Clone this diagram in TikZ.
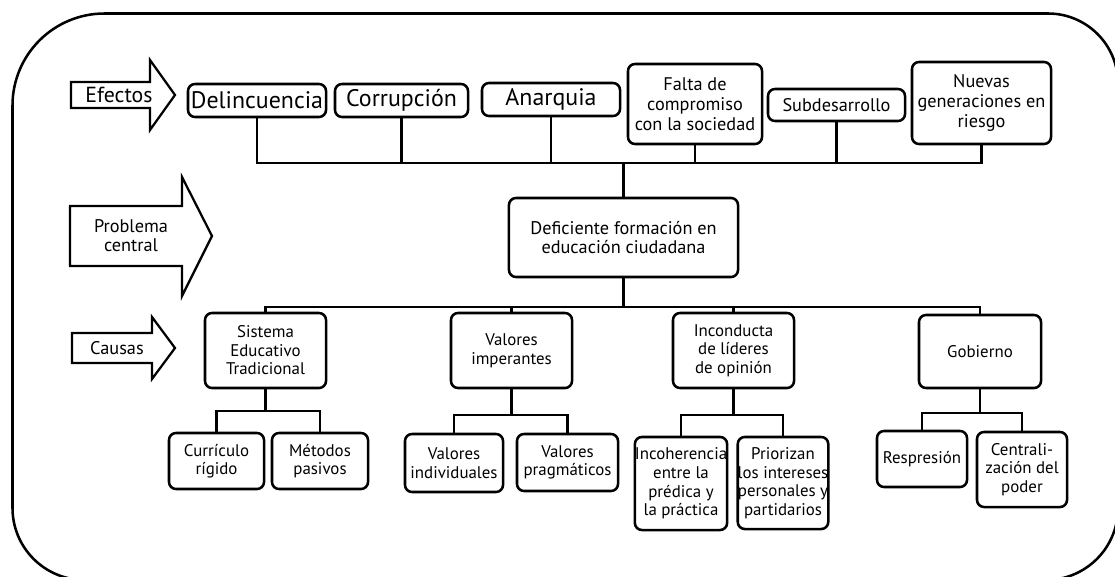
\documentclass[tikz,border=0pt]{standalone}
\usepackage{fontspec}
\setmainfont{PT Sans}
\tikzset{
  caja/.style={draw, line width=1.8pt, rounded corners=5pt, align=center, inner sep=0pt,
    font=\fontsize{12}{13.2}\selectfont},
  cajag/.style={caja, font=\fontsize{17}{19}\selectfont},
  linea/.style={line width=1.8pt},
  flecha/.style={line width=1.6pt, line join=miter},
}

\begin{document}
\begin{tikzpicture}[x=0.025cm, y=-0.025cm]
      \useasboundingbox (0,0) rectangle (1115,577);
      \clip (0,0) rectangle (1115,577);
      % marco
      \draw [line width=1.8pt] (12.5,300) -- (12.5,105.5)
        arc [start angle=180, end angle=270, radius=92] -- (1048,13.5)
        arc [start angle=270, end angle=360, radius=70] -- (1118,508)
        arc [start angle=0, end angle=90, radius=72] -- (84.5,580)
        arc [start angle=90, end angle=180, radius=72] -- cycle;

      % flechas de la izquierda
      \draw [flecha] (71,82) -- (150,82) -- (150,60) -- (175,95) -- (150,130) -- (150,108) -- (71,108) -- cycle;
      \node (efectos) at (119,95) {\fontsize{15.5}{17}\selectfont Efectos};
      \draw [flecha] (70,206) -- (182,206) -- (182,177) -- (212,236) -- (182,296) -- (182,266) -- (70,266) -- cycle;
      \node (problema) [align=center, font=\fontsize{13}{13.5}\selectfont] at (131,236) {Problema\\central};
      \draw [flecha] (72,333) -- (152,333) -- (152,317) -- (175,348) -- (152,379) -- (152,363) -- (72,363) -- cycle;
      \node (causas) [font=\fontsize{13}{14}\selectfont] at (117,348) {Causas};

      % efectos
      \node (delin) [cajag, minimum width=3.45cm, minimum height=0.825cm] at (257,100.5) {Delincuencia};
      \node (corr) [cajag, minimum width=3.325cm, minimum height=0.825cm] at (401.5,100.5) {Corrupción};
      \node (anar) [cajag, minimum width=3.45cm, minimum height=0.825cm] at (551,99.5) {Anarquia};
      \node (falta) [caja, font=\fontsize{13}{14.2}\selectfont, minimum width=3.35cm, minimum height=2cm] at (695,104) {Falta de\\compromiso\\con la sociedad};
      \node (subd) [caja, font=\fontsize{13}{14}\selectfont, minimum width=3.425cm, minimum height=0.8cm] at (836.5,105) {Subdesarrollo};
      \node (nuevas) [caja, font=\fontsize{13}{14.2}\selectfont, minimum width=3.475cm, minimum height=2.05cm] at (981.5,103) {Nuevas\\generaciones en\\riesgo};

      % problema central
      \node (central) [caja, font=\fontsize{13}{14}\selectfont, minimum width=5.725cm, minimum height=1.975cm] at (623.5,237.5) {Deficiente formación en\\educación ciudadana};

      % causas
      \node (sistema) [caja, minimum width=3.025cm, minimum height=1.875cm] at (265.5,350.5) {Sistema\\Educativo\\Tradicional};
      \node (valores) [caja, minimum width=3.025cm, minimum height=1.875cm] at (511.5,350.5) {Valores\\imperantes};
      \node (incond) [caja, minimum width=3.025cm, minimum height=1.875cm] at (733.5,350.5) {Inconducta\\de líderes\\de opinión};
      \node (gob) [caja, minimum width=3.05cm, minimum height=1.825cm] at (980,351.5) {Gobierno};

      \node (curr) [caja, minimum width=2.375cm, minimum height=1.4cm] at (216.5,461) {Currículo\\rígido};
      \node (metodos) [caja, minimum width=2.4cm, minimum height=1.4cm] at (320,461) {Métodos\\pasivos};
      \node (vind) [caja, minimum width=2.45cm, minimum height=1.45cm] at (454,463) {Valores\\individuales};
      \node (vprag) [caja, minimum width=2.525cm, minimum height=1.425cm] at (567.5,462.5) {Valores\\pragmáticos};
      \node (incoh) [caja, minimum width=2.25cm, minimum height=2.325cm] at (681,483.5) {Incoherencia\\entre la\\prédica y\\la práctica};
      \node (prior) [caja, minimum width=2.25cm, minimum height=2.3cm] at (783,483) {Priorizan\\los intereses\\personales y\\partidarios};
      \node (resp) [caja, minimum width=2.25cm, minimum height=1.4cm] at (922,459) {Respresión};
      \node (centr) [caja, minimum width=2.25cm, minimum height=1.875cm] at (1022,469.5) {Centrali-\\zación del\\poder};

      % conectores
      \coordinate (ebus) at (0,163);
      \draw [linea] (delin.south) -- (delin.south |- ebus) -- (nuevas.south |- ebus) -- (nuevas.south);
      \foreach \n in {corr,anar,falta,subd}
        \draw [linea] (\n.south) -- (\n.south |- ebus);
      \draw [linea] (central.north) -- (central.north |- ebus);

      \coordinate (cbus) at (0,307);
      \draw [linea] (sistema.north) -- (sistema.north |- cbus) -- (gob.north |- cbus) -- (gob.north);
      \foreach \n in {valores,incond}
        \draw [linea] (\n.north) -- (\n.north |- cbus);
      \draw [linea] (central.south) -- (central.south |- cbus);

      \foreach \p/\a/\b/\y in {sistema/curr/metodos/411, valores/vind/vprag/415, incond/incoh/prior/415, gob/resp/centr/413} {
        \coordinate (bus) at (0,\y);
        \draw [linea] (\p.south) -- (\p.south |- bus);
        \draw [linea] (\a.north) -- (\a.north |- bus) -- (\b.north |- bus) -- (\b.north);
      }
    \end{tikzpicture}
\end{document}
